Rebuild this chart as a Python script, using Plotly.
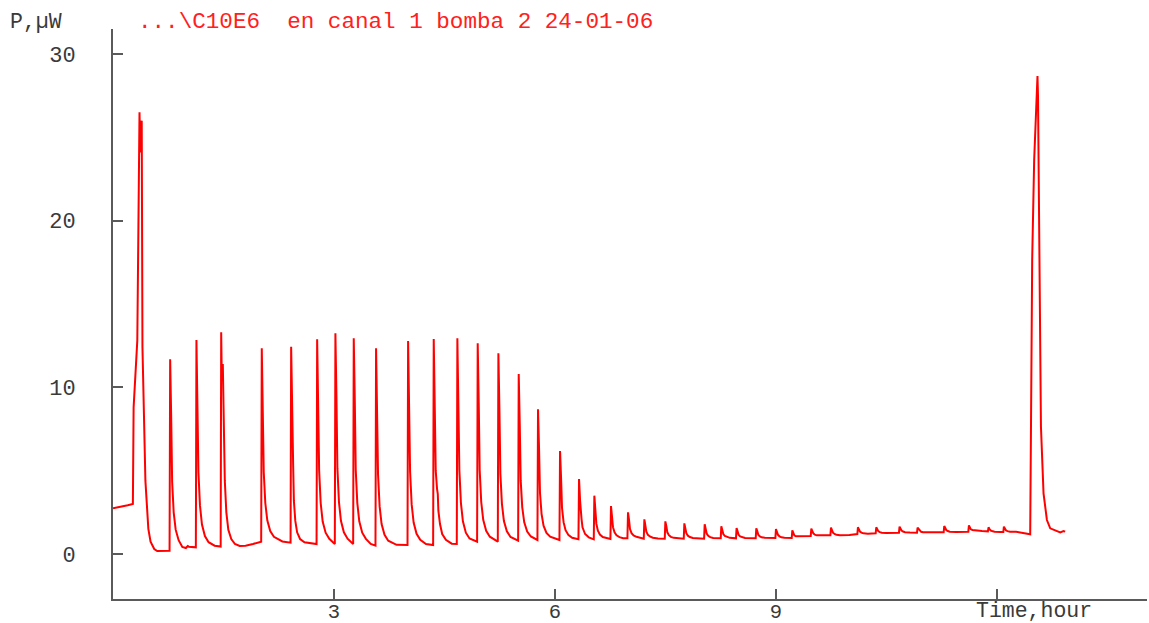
import plotly.graph_objects as go

# Time (hours) and power (µW)
time_h = [
    0.00, 0.10, 0.20, 0.27, 0.28, 0.33, 0.36, 0.37, 0.39, 0.40, 0.44, 0.48, 0.51, 0.56, 0.60, 0.768,
    0.776, 0.79, 0.803, 0.824, 0.851, 0.891, 0.941, 0.99, 1.015, 1.03, 1.125,
    1.133, 1.147, 1.16, 1.181, 1.208, 1.248, 1.298, 1.38, 1.462,
    1.469, 1.476, 1.491, 1.505, 1.518, 1.539, 1.566, 1.606, 1.656, 1.72, 1.8, 1.9, 2.012,
    2.02, 2.034, 2.047, 2.068, 2.095, 2.135, 2.185, 2.3, 2.411,
    2.419, 2.436, 2.446, 2.456, 2.475, 2.50, 2.54, 2.6, 2.7, 2.764,
    2.772, 2.786, 2.799, 2.82, 2.847, 2.887, 2.937, 3.012,
    3.02, 3.034, 3.047, 3.068, 3.095, 3.135, 3.185, 3.261,
    3.269, 3.283, 3.296, 3.317, 3.344, 3.384, 3.434, 3.5, 3.564,
    3.572, 3.586, 3.599, 3.62, 3.647, 3.687, 3.737, 3.85, 3.999,
    4.007, 4.021, 4.034, 4.055, 4.082, 4.122, 4.172, 4.25, 4.347,
    4.355, 4.369, 4.382, 4.40, 4.41, 4.418, 4.44, 4.47, 4.52, 4.6, 4.668,
    4.676, 4.69, 4.703, 4.724, 4.751, 4.791, 4.841, 4.944,
    4.952, 4.966, 4.979, 5.0, 5.027, 5.067, 5.117, 5.225,
    5.233, 5.247, 5.26, 5.281, 5.308, 5.348, 5.398, 5.501,
    5.509, 5.523, 5.536, 5.557, 5.584, 5.624, 5.674, 5.763,
    5.771, 5.785, 5.798, 5.819, 5.846, 5.886, 5.936, 6.062,
    6.07, 6.084, 6.097, 6.118, 6.145, 6.185, 6.235, 6.32,
    6.328, 6.342, 6.352, 6.362, 6.375, 6.41, 6.46, 6.528,
    6.536, 6.55, 6.563, 6.584, 6.611, 6.651, 6.701, 6.754,
    6.762, 6.776, 6.789, 6.81, 6.837, 6.877, 6.927, 6.985,
    6.993, 7.007, 7.02, 7.041, 7.068, 7.108, 7.158, 7.207,
    7.215, 7.229, 7.242, 7.263, 7.29, 7.33, 7.4, 7.492,
    7.5, 7.514, 7.527, 7.548, 7.575, 7.615, 7.7, 7.75,
    7.758, 7.772, 7.785, 7.806, 7.833, 7.873, 7.95, 8.026,
    8.034, 8.048, 8.061, 8.082, 8.109, 8.149, 8.2, 8.252,
    8.26, 8.274, 8.287, 8.308, 8.335, 8.375, 8.459,
    8.467, 8.481, 8.494, 8.515, 8.542, 8.582, 8.727,
    8.735, 8.749, 8.762, 8.783, 8.81, 8.85, 8.994,
    9.002, 9.016, 9.029, 9.05, 9.077, 9.117, 9.216,
    9.224, 9.238, 9.251, 9.272, 9.3, 9.35, 9.474,
    9.482, 9.496, 9.509, 9.53, 9.557, 9.6, 9.741,
    9.749, 9.763, 9.776, 9.797, 9.824, 9.87, 9.95, 9.98, 10.0, 10.107,
    10.115, 10.129, 10.142, 10.163, 10.19, 10.25, 10.356,
    10.364, 10.378, 10.391, 10.412, 10.439, 10.5, 10.672,
    10.68, 10.694, 10.707, 10.728, 10.755, 10.82, 10.917,
    10.925, 10.939, 10.952, 10.973, 11.0, 11.1, 11.2, 11.279,
    11.287, 11.301, 11.314, 11.335, 11.362, 11.45, 11.614,
    11.622, 11.636, 11.649, 11.67, 11.7, 11.8, 11.88,
    11.888, 11.902, 11.915, 11.936, 11.97, 12.05, 12.089,
    12.097, 12.111, 12.124, 12.145, 12.18, 12.26, 12.34, 12.42, 12.454,
    12.468, 12.481, 12.508, 12.545, 12.553, 12.56, 12.567, 12.58, 12.6, 12.635,
    12.681, 12.726, 12.817, 12.862, 12.906, 12.929,
]
power_uw = [
    2.75, 2.82, 2.92, 3.00, 8.8, 12.8, 26.5, 24.1, 26.0, 12.4, 4.4, 1.5, 0.74, 0.3, 0.18, 0.2,
    11.68, 8.24, 4.33, 2.5, 1.46, 0.83, 0.42, 0.36, 0.48, 0.44, 0.40,
    12.84, 9.1, 4.9, 2.9, 1.77, 1.08, 0.71, 0.5, 0.45,
    13.3, 11.0, 11.4, 8.0, 4.4, 2.5, 1.45, 0.9, 0.6, 0.48, 0.5, 0.6, 0.74,
    12.34, 8.86, 4.9, 3.06, 2.02, 1.38, 1.03, 0.75, 0.68,
    12.44, 5.5, 5.4, 3.2, 2.0, 1.3, 0.9, 0.7, 0.62, 0.6,
    12.88, 9.2, 5.02, 3.06, 1.95, 1.28, 0.91, 0.6,
    13.24, 9.45, 5.15, 3.13, 1.99, 1.3, 0.92, 0.6,
    12.94, 9.24, 5.04, 3.07, 1.96, 1.28, 0.91, 0.6, 0.5,
    12.34, 8.79, 4.76, 2.87, 1.8, 1.15, 0.8, 0.55, 0.54,
    12.78, 9.11, 4.95, 2.99, 1.89, 1.21, 0.85, 0.6, 0.54,
    12.9, 9.2, 5.0, 3.9, 3.6, 2.6, 1.8, 1.2, 0.85, 0.62, 0.6,
    12.94, 9.24, 5.04, 3.07, 1.96, 1.28, 0.93, 0.74,
    12.64, 9.07, 5.02, 3.12, 2.05, 1.39, 1.04, 0.74,
    12.04, 8.65, 4.81, 3.0, 1.98, 1.36, 1.02, 0.8,
    10.8, 7.8, 4.4, 2.8, 1.9, 1.35, 1.05, 0.84,
    8.68, 6.33, 3.66, 2.41, 1.7, 1.27, 1.04, 0.84,
    6.18, 4.58, 2.76, 1.91, 1.43, 1.13, 0.97, 0.88,
    4.5, 3.2, 2.2, 2.1, 1.6, 1.2, 1.0, 0.88,
    3.5, 2.7, 1.82, 1.4, 1.17, 1.02, 0.95, 0.9,
    2.88, 2.29, 1.61, 1.3, 1.12, 1.01, 0.95, 0.94,
    2.5, 2.03, 1.5, 1.25, 1.11, 1.03, 0.97, 0.92,
    2.08, 1.73, 1.34, 1.15, 1.05, 0.98, 0.93, 0.92,
    1.96, 1.65, 1.3, 1.13, 1.03, 0.97, 0.92, 0.92,
    1.84, 1.56, 1.25, 1.1, 1.02, 0.96, 0.92, 0.92,
    1.78, 1.52, 1.23, 1.09, 1.01, 0.96, 0.94, 0.94,
    1.66, 1.44, 1.2, 1.08, 1.02, 0.97, 0.94,
    1.56, 1.37, 1.16, 1.06, 1.0, 0.96, 0.94,
    1.54, 1.36, 1.16, 1.06, 1.0, 0.97, 0.96,
    1.5, 1.34, 1.15, 1.06, 1.0, 0.97, 0.96,
    1.42, 1.28, 1.12, 1.06, 1.06, 1.08, 1.08,
    1.52, 1.39, 1.24, 1.16, 1.12, 1.12, 1.12,
    1.58, 1.44, 1.28, 1.2, 1.15, 1.12, 1.12, 1.16, 1.14, 1.2,
    1.6, 1.48, 1.35, 1.28, 1.24, 1.22, 1.24,
    1.6, 1.49, 1.37, 1.31, 1.28, 1.26, 1.28,
    1.64, 1.53, 1.41, 1.35, 1.31, 1.29, 1.28,
    1.58, 1.49, 1.39, 1.33, 1.3, 1.28, 1.3, 1.3,
    1.68, 1.56, 1.44, 1.38, 1.34, 1.32, 1.34,
    1.72, 1.6, 1.48, 1.44, 1.42, 1.38, 1.36,
    1.6, 1.5, 1.42, 1.38, 1.34, 1.32, 1.32,
    1.64, 1.52, 1.42, 1.37, 1.34, 1.34, 1.28, 1.22, 1.18,
    9.64, 17.64, 23.64, 28.2, 28.68, 27.5, 23.64, 15.64, 7.64, 3.64,
    2.04, 1.54, 1.38, 1.3, 1.38, 1.34,
]

x_tick_vals = [3, 6, 9, 12]
x_tick_text = ["3", "6", "9", ""]
y_tick_vals = [0, 10, 20, 30]

title_text = "...\\C10E6  en canal 1 bomba 2 24-01-06"
y_label = "P,µW"
x_label = "Time,hour"

MONO = "Courier New, Liberation Mono, monospace"
AXIS_COLOR = "#5a5a5a"
TEXT_COLOR = "#3a3a3a"

L, R, T, B = 113, 2, 29, 24
PW, PH = 1149 - L - R, 623 - T - B

fig = go.Figure()
fig.add_trace(go.Scatter(
    x=time_h, y=power_uw, mode="lines",
    line=dict(color="#ff0000", width=2),
    hoverinfo="x+y", showlegend=False,
))

fig.update_layout(
    width=1149, height=623,
    margin=dict(l=L, r=R, t=T, b=B, autoexpand=False),
    paper_bgcolor="white", plot_bgcolor="white",
    font=dict(family=MONO, size=22, color=TEXT_COLOR),
    xaxis=dict(
        range=[0, 14.04], showgrid=False, zeroline=False, automargin=False,
        showline=True, linecolor=AXIS_COLOR, linewidth=2,
        ticks="inside", ticklen=10, tickwidth=1.5, tickcolor=AXIS_COLOR,
        tickvals=x_tick_vals, ticktext=x_tick_text,
        ticklabelstandoff=-8,
        tickfont=dict(family=MONO, size=20.5, color=TEXT_COLOR),
    ),
    yaxis=dict(
        range=[-2.7, 31.5], showgrid=False, zeroline=False, automargin=False,
        showline=True, linecolor=AXIS_COLOR, linewidth=2,
        ticks="inside", ticklen=10, tickwidth=1.5, tickcolor=AXIS_COLOR,
        tickvals=y_tick_vals,
        ticklabelstandoff=31,
        tickfont=dict(family=MONO, size=22, color=TEXT_COLOR),
    ),
    annotations=[
        dict(text=y_label, xref="paper", yref="paper",
             x=(8 - L) / PW, y=(599 - 22) / PH,
             xanchor="left", yanchor="middle", showarrow=False,
             font=dict(family=MONO, size=21.5, color=TEXT_COLOR)),
        dict(text=title_text, xref="paper", yref="paper",
             x=(136 - L) / PW, y=(599 - 22) / PH,
             xanchor="left", yanchor="middle", showarrow=False,
             font=dict(family=MONO, size=22.6, color="#ff2020")),
        dict(text=x_label, xref="paper", yref="paper",
             x=(1034 - L) / PW, y=-(611 - 599) / PH,
             xanchor="center", yanchor="middle", showarrow=False,
             font=dict(family=MONO, size=21.5, color=TEXT_COLOR)),
    ],
)

fig.write_html(
    "out.html",
    config={"displayModeBar": False},
    post_script="document.body.style.margin='0';document.body.style.padding='0';",
)
